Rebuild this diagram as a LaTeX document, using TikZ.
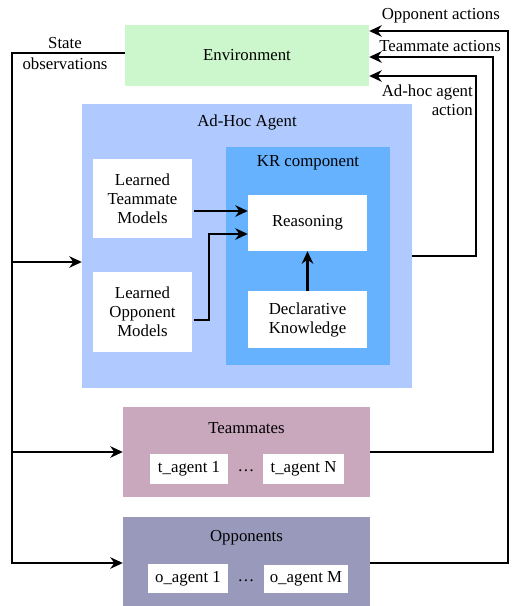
\documentclass[tikz,border=0pt]{standalone}
\usepackage{fontspec}
\setmainfont{Liberation Serif}
\usetikzlibrary{arrows.meta,calc}
\definecolor{envgreen}{RGB}{204,246,204}
\definecolor{agentblue}{RGB}{176,202,255}
\definecolor{krblue}{RGB}{102,178,255}
\definecolor{teampink}{RGB}{201,167,189}
\definecolor{opppurple}{RGB}{153,153,187}
\tikzset{
  box/.style={draw=none, inner sep=2pt, align=center},
  whitebox/.style={box, fill=white},
  conn/.style={line width=2.4pt, line join=miter},
  arr/.style={conn, -{Stealth[length=12.5pt,width=11.5pt,inset=4pt]}},
  lbl/.style={inner sep=0pt, align=center},
}
\begin{document}
\begin{tikzpicture}[x=1pt,y=-1pt,font=\fontsize{16.8}{19}\selectfont]
\useasboundingbox (0,0) rectangle (514,606);
% containers
\node[box, fill=envgreen, minimum width=244, minimum height=61] (env) at (247,55.5) {Environment};
\node[box, fill=agentblue, minimum width=330, minimum height=284] (ahc) at (247,246) {};
\node[lbl] (ahctitle) at (247,122) {Ad-Hoc Agent};
\node[box, fill=krblue, minimum width=164, minimum height=218] (kr) at (308,256) {};
\node[lbl] (krtitle) at (308,163) {KR component};
\node[whitebox, minimum width=99, minimum height=79] (ltm) at (142.5,198.5) {Learned\\Teammate\\Models};
\node[whitebox, minimum width=99, minimum height=80] (lom) at (142.5,312) {Learned\\Opponent\\Models};
\node[whitebox, minimum width=119, minimum height=56] (reas) at (307.5,223) {Reasoning};
\node[whitebox, minimum width=119, minimum height=57] (decl) at (307.5,319.5) {Declarative\\Knowledge};
\node[box, fill=teampink, minimum width=247, minimum height=90] (team) at (246.5,452) {};
\node[lbl] (teamtitle) at (246.5,428) {Teammates};
\node[whitebox, minimum width=78, minimum height=30] (ta1) at (189,469) {t\_agent 1};
\node[lbl] (tdots) at (246,471) {\dots};
\node[whitebox, minimum width=81, minimum height=30] (taN) at (303.5,469) {t\_agent N};
\node[box, fill=opppurple, minimum width=247, minimum height=89] (opp) at (246.5,561.5) {};
\node[lbl] (opptitle) at (246.5,538) {Opponents};
\node[whitebox, minimum width=80, minimum height=29] (oa1) at (188,578.5) {o\_agent 1};
\node[lbl] (odots) at (246,581) {\dots};
\node[whitebox, minimum width=84, minimum height=28] (oaM) at (306,579) {o\_agent M};
% labels
\node[lbl] (stateobs) at (65,53.5) {State\\[2pt]observations};
\node[lbl, anchor=east] (oppact) at (500,16) {Opponent actions};
\node[lbl, anchor=east] (teamact) at (501,46) {Teammate actions};
\node[lbl, anchor=east, align=right] (ahcact) at (473,100) {Ad-hoc agent\\action};
% coordinates
\coordinate (L) at (12,53);
\coordinate (ahcin) at ([yshift=-16pt]ahc.west);
% state observation distribution
\draw[arr] ([yshift=2.5pt]env.west) -- (L) |- ([yshift=-1.5pt]opp.west);
\draw[arr] (L |- team.west) -- (team.west);
\draw[arr] (L |- ahcin) -- (ahcin);
% actions back to environment
\draw[arr] ([yshift=-10pt]ahc.east) -- ++(64,0) |- ([yshift=-20.5pt]env.east);
\draw[arr] (team.east) -- ++(123,0) |- ([yshift=-1.5pt]env.east);
\draw[arr] ([yshift=-1.5pt]opp.east) -- ++(138,0) |- ([yshift=24.5pt]env.east);
% internal
\draw[arr] ([yshift=-12.5pt,xshift=2pt]ltm.east) -- ([yshift=-12.5pt]ltm.east -| reas.west);
\draw[arr] ([yshift=-8pt,xshift=2pt]lom.east) -- ++(15,0) |- ([yshift=-11pt]reas.west);
\draw[arr] (decl.north) -- (reas.south);
\end{tikzpicture}
\end{document}
